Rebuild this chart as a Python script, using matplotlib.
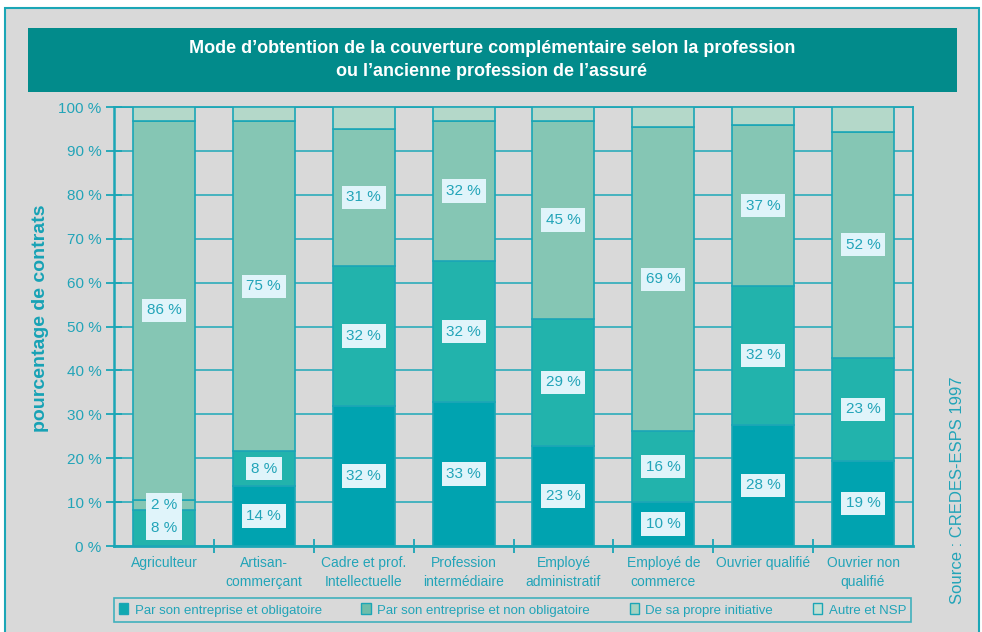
import numpy as np
import matplotlib.pyplot as plt
from matplotlib.patches import Rectangle, Patch

# data (percent of contracts)
categories = ['Agriculteur', 'Artisan-\ncommerçant', 'Cadre et prof.\nIntellectuelle',
              'Profession\nintermédiaire', 'Employé\nadministratif', 'Employé de\ncommerce',
              'Ouvrier qualifié', 'Ouvrier non\nqualifié']
series_names = ['Par son entreprise et obligatoire', 'Par son entreprise et non obligatoire',
                'De sa propre initiative', 'Autre et NSP']
oblig = [8.2, 13.7, 31.9, 32.8, 22.8, 10.0, 27.6, 19.4]
non_oblig = [2.3, 7.9, 31.9, 32.1, 28.9, 16.2, 31.6, 23.4]
initiative = [86.4, 75.2, 31.2, 31.9, 45.1, 69.2, 36.7, 51.6]
autre = [100 - a - b - c for a, b, c in zip(oblig, non_oblig, initiative)]
shown = [True, True, True, False]  # which series get value labels

# styles
teal = '#1ba6b6'
bg = '#d9d9d9'
colors = ['#00a3b0', '#22b3ac', '#85c6b4', '#b4d8c9']
agri_colors = ['#22b3ac', '#85c6b4', '#85c6b4', '#b4d8c9']  # first bar drawn lighter in the source
legend_colors = ['#10a9b0', '#6fbdaa', '#a5d2c2', '#c4e0d4']
narrow = ['Liberation Sans Narrow', 'Liberation Sans', 'DejaVu Sans']
plt.rcParams['font.family'] = ['Liberation Sans', 'DejaVu Sans']

W, H = 982, 632
fig = plt.figure(figsize=(W / 100, H / 100), dpi=100)
fig.patch.set_facecolor('white')


def px(x0, y0, x1, y1):
    # pixel box (top-left origin) -> figure fraction rect
    return [x0 / W, 1 - y1 / H, (x1 - x0) / W, (y1 - y0) / H]


# outer frame and title banner
r = px(5, 8, 979, 640)
fig.patches.append(Rectangle((r[0], r[1]), r[2], r[3], transform=fig.transFigure,
                             facecolor=bg, edgecolor=teal, lw=1.5, zorder=-2))
r = px(28, 28, 957, 92)
fig.patches.append(Rectangle((r[0], r[1]), r[2], r[3], transform=fig.transFigure,
                             facecolor='#028b8b', edgecolor='none', zorder=-1))
fig.text(492 / W, 1 - 60 / H,
         "Mode d\u2019obtention de la couverture complémentaire selon la profession\n"
         "ou l\u2019ancienne profession de l\u2019assuré",
         ha='center', va='center', color='white', fontsize=13, fontweight='bold',
         linespacing=1.45)

ax = fig.add_axes(px(114, 107, 913, 546))
ax.set_facecolor(bg)

data = [oblig, non_oblig, initiative, autre]
x = np.arange(len(categories))
bottom = np.zeros(len(categories))
for s, vals in enumerate(data):
    vals = np.array(vals)
    cols = [agri_colors[s] if i == 0 else colors[s] for i in range(len(categories))]
    ax.bar(x, vals, bottom=bottom, width=0.62, color=cols, edgecolor=teal,
           linewidth=1.2, zorder=3)
    if shown[s]:
        for i, v in enumerate(vals):
            ax.text(x[i], bottom[i] + v / 2, f'{round(v):d} %', ha='center', va='center',
                    fontsize=11, color='#22a4b8', zorder=5,
                    bbox=dict(boxstyle='square,pad=0.3', facecolor='#e0f4fa', edgecolor='none'))
    bottom += vals

ax.set_xlim(-0.5, len(categories) - 0.5)
ax.set_ylim(0, 100)
ax.set_yticks(np.arange(0, 101, 10))
ax.set_yticklabels([f'{t} %' for t in range(0, 101, 10)], fontsize=11, color='#22a4b8')
ax.yaxis.grid(True, color='#3aafbd', linewidth=1.3, zorder=1)
ax.set_axisbelow(True)
ax.tick_params(axis='y', direction='inout', length=12, width=1.3, color=teal, pad=3)

ax.set_xticks(x)
ax.set_xticklabels(categories, fontsize=10, color='#22a4b8', family=narrow, linespacing=1.5)
ax.tick_params(axis='x', length=0, pad=7)
ax.set_xticks(np.arange(0.5, len(categories) - 0.5, 1), minor=True)
ax.tick_params(axis='x', which='minor', direction='inout', length=10, width=1.3, color=teal)

for side in ['left', 'bottom', 'top', 'right']:
    ax.spines[side].set_color(teal)
ax.spines['left'].set_linewidth(1.8)
ax.spines['bottom'].set_linewidth(2)
ax.spines['top'].set_linewidth(1.3)
ax.spines['right'].set_linewidth(1.3)

fig.text(41 / W, 1 - 318 / H, 'pourcentage de contrats', rotation=90, ha='center',
         va='center', fontsize=14, fontweight='bold', color='#17a2b5')
fig.text(957 / W, 1 - 490 / H, 'Source : CREDES-ESPS 1997', rotation=90, ha='center',
         va='center', fontsize=12, color='#22a4b8')

handles = [Patch(facecolor=c, edgecolor=teal, linewidth=1) for c in legend_colors]
leg = fig.legend(handles, series_names, loc='center', ncol=4,
                 bbox_to_anchor=(512.5 / W, 1 - 610 / H), frameon=True,
                 prop={'family': narrow, 'size': 9.5}, labelcolor='#22a4b8',
                 handlelength=0.7, handleheight=0.9, handletextpad=0.5,
                 columnspacing=3.0, borderpad=0.4, fancybox=False)
leg.get_frame().set_edgecolor(teal)
leg.get_frame().set_facecolor(bg)
leg.get_frame().set_linewidth(1.2)

fig.savefig('out.png', dpi=100)
